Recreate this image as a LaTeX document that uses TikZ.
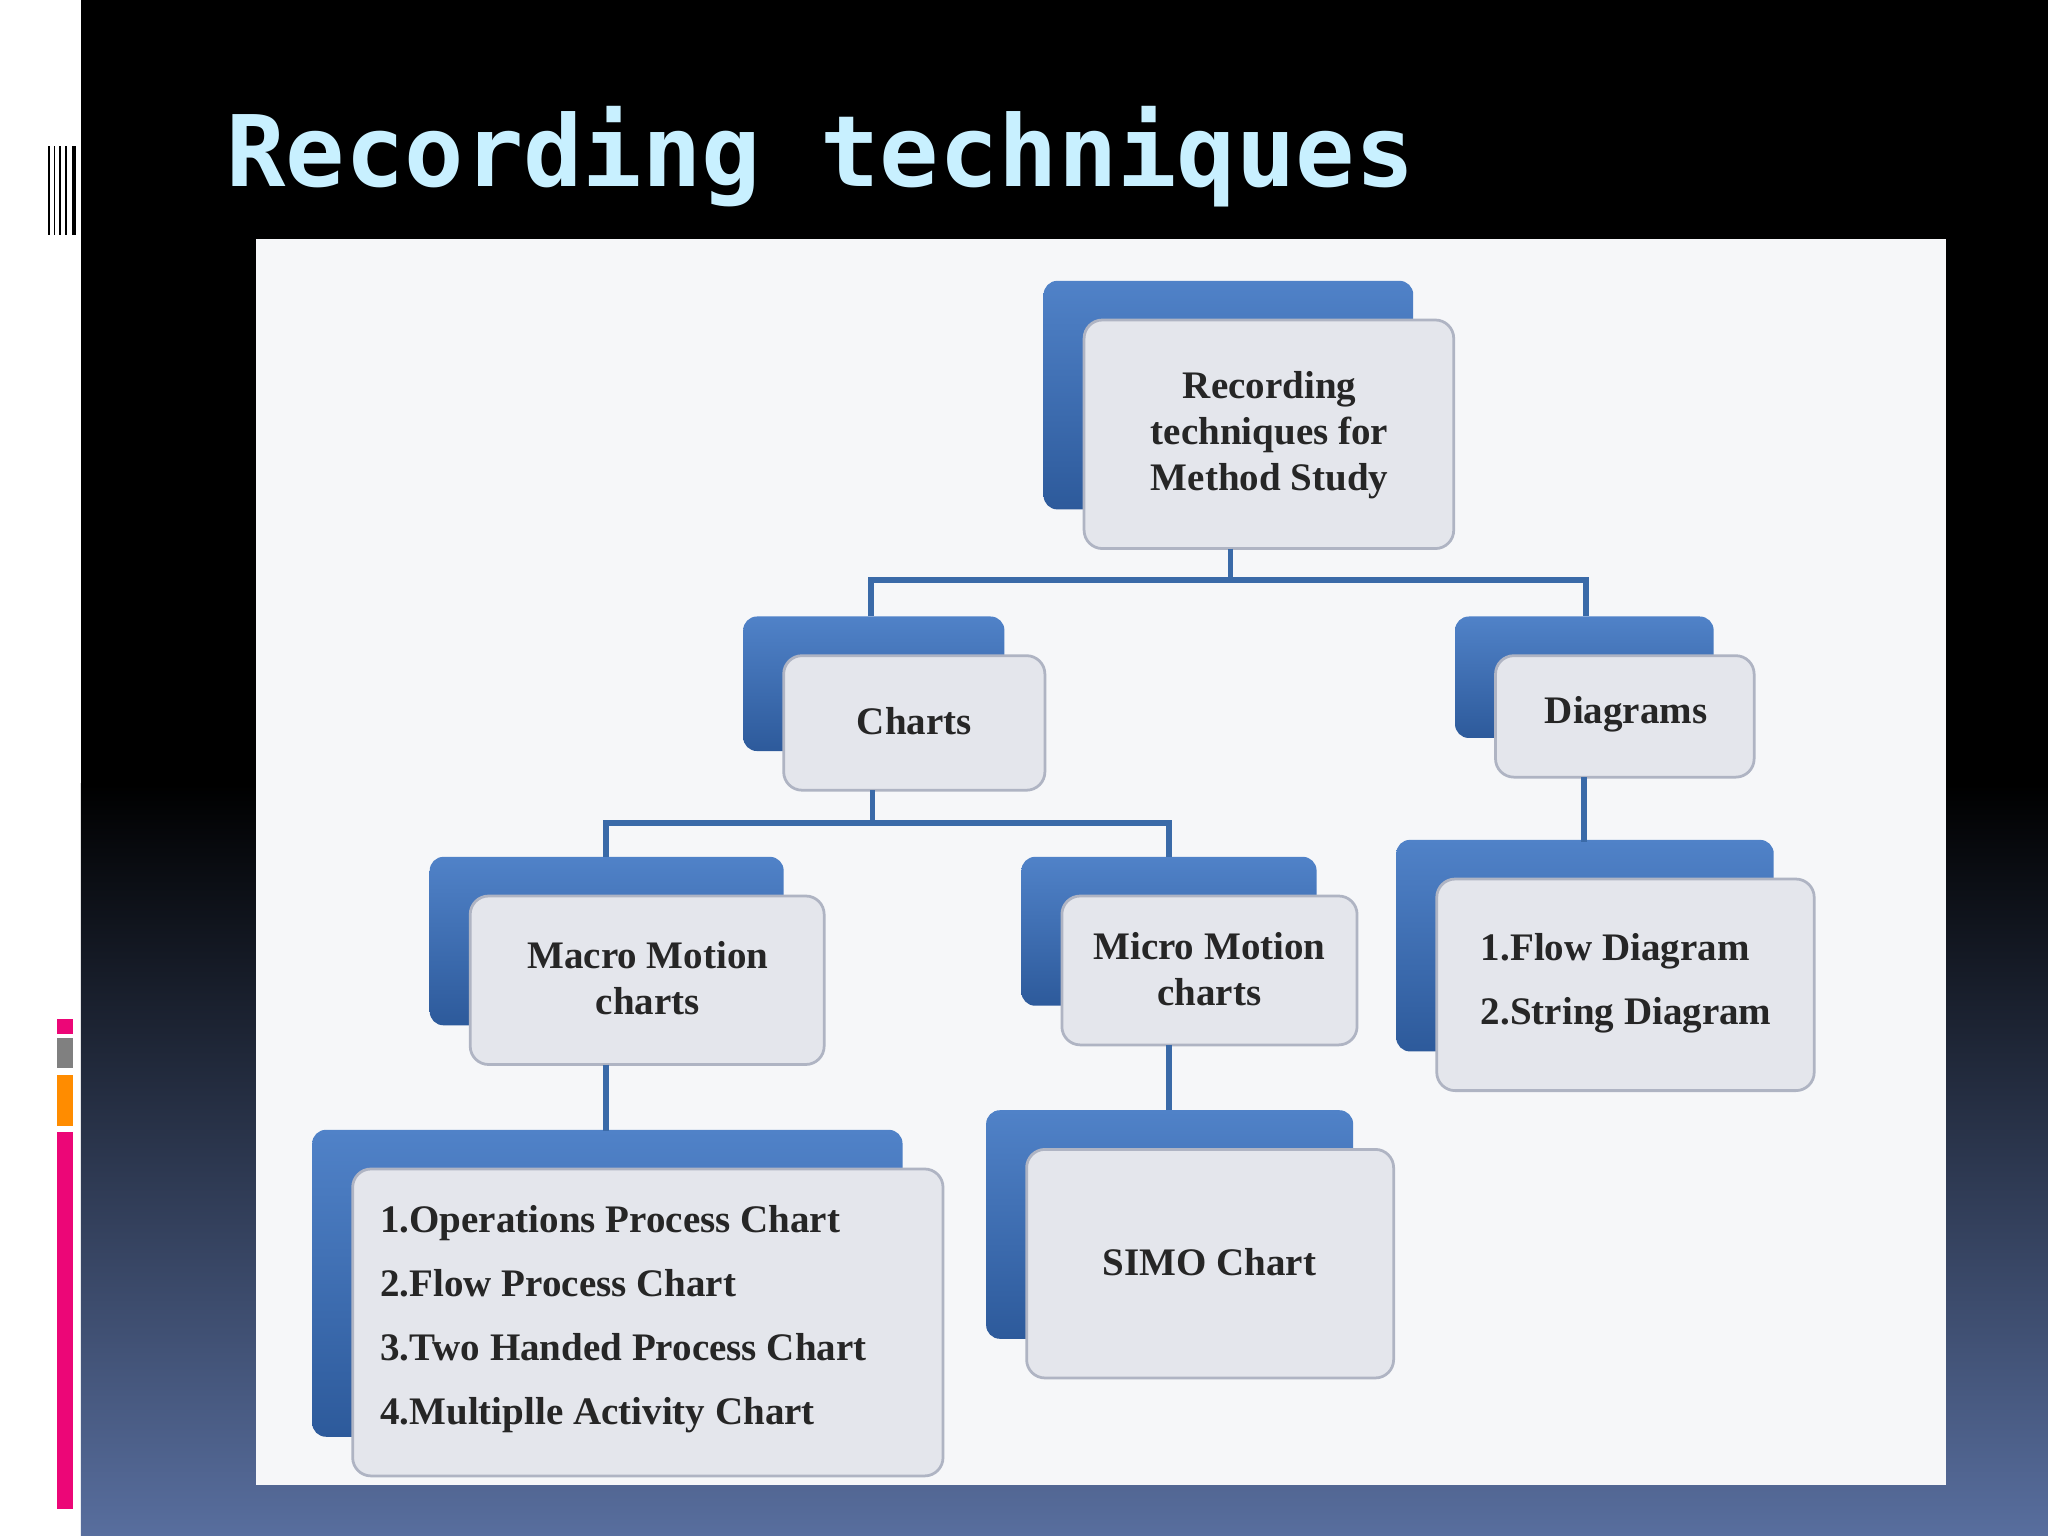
\documentclass[tikz,border=0pt]{standalone}
\usepackage{fontspec}
\setmainfont{Liberation Serif}
\newfontfamily\titlefont{DejaVu Sans Mono}
\usetikzlibrary{fit}
\definecolor{conn}{HTML}{3A6AA8}
\definecolor{bktop}{RGB}{80,130,200}
\definecolor{bkbot}{RGB}{45,90,155}
\definecolor{frfill}{RGB}{228,230,236}
\definecolor{frdraw}{RGB}{175,180,195}
\definecolor{paneln}{RGB}{246,247,249}
\definecolor{titlec}{RGB}{200,240,255}
\definecolor{bgbot}{RGB}{88,110,158}
\tikzset{
 back/.style={top color=bktop,bottom color=bkbot,draw=none,rounded corners=6pt},
 front/.style={fill=frfill,draw=frdraw,line width=1.2pt,rounded corners=8pt,inner sep=0pt},
 lbl/.style={font=\bfseries\fontsize{17}{20}\selectfont,text=black!85,align=center},
 cn/.style={draw=conn,line width=2.5pt}
}
\newcommand{\bx}[5]{%
 \shade[back] (#2-31,#3-30) rectangle (#4-31,#5-30);
 \node[front,fit={(#2,#3)(#4,#5)}] (#1) {};}
\begin{document}
\begin{tikzpicture}[x=0.02cm,y=-0.02cm]
\useasboundingbox (0,0) rectangle (1568,1176);
\fill[white] (0,0) rectangle (62,1176);
\fill[black] (62,0) rectangle (1568,600);
\shade[top color=black,bottom color=bgbot] (62,600) rectangle (1568,1176);
% barcode
\fill[white] (36,105) rectangle (62,180);
\foreach \x/\w in {37/1.5,41/1,45/2,50/1.5,55/3}{\fill[black] (\x,112) rectangle (\x+\w,180);}
% colour bars
\fill[magenta!80!red] (44,780) rectangle (56,792);
\fill[gray] (44,795) rectangle (56,818);
\fill[orange!90!yellow] (44,823) rectangle (56,862);
\fill[magenta!80!red] (44,867) rectangle (56,1155);
\node[anchor=base west,inner sep=0,text=titlec,font=\titlefont\bfseries\fontsize{43}{50}\selectfont] (title) at (173,143) {Recording techniques};
% panel
\fill[paneln] (196,183) rectangle (1490,1137);
% boxes
\bx{top}{830}{245}{1113}{420}
\bx{charts}{600}{502}{800}{605}
\bx{diag}{1145}{502}{1343}{595}
\bx{macro}{360}{686}{631}{815}
\bx{micro}{813}{686}{1039}{800}
\bx{flow}{1100}{673}{1389}{835}
\bx{ops}{270}{895}{722}{1130}
\bx{simo}{786}{880}{1067}{1055}
% connectors
\coordinate (j1) at (942,444);
\coordinate (j2) at (668,630);
\draw[cn] (942,420) -- (j1);
\draw[cn] (667,472) |- (j1) -| (1214,472);
\draw[cn] (668,605) -- (j2);
\draw[cn] (464,656) |- (j2) -| (895,656);
\draw[cn] (1213,595) -- (1213,645);
\draw[cn] (464,815) -- (464,866);
\draw[cn] (895,800) -- (895,850);
% labels
\node[lbl] (ttop) at (972,333) {Recording\\techniques for\\Method Study};
\node[lbl] (tcharts) at (700,552) {Charts};
\node[lbl] (tdiag) at (1245,547) {Diagrams};
\node[lbl] (tmacro) at (496,749) {Macro Motion\\charts};
\node[lbl] (tmicro) at (926,742) {Micro Motion\\charts};
\node[lbl,align=left] (tflow) at (1245,753) {1.Flow Diagram\\[8pt]2.String Diagram};
\node[lbl,align=left,anchor=west] (tops) at (285,1010) {1.Operations Process Chart\\[8pt]2.Flow Process Chart\\[8pt]3.Two Handed Process Chart\\[8pt]4.Multiplle Activity Chart};
\node[lbl] (tsimo) at (926,966) {SIMO Chart};
\end{tikzpicture}
\end{document}
